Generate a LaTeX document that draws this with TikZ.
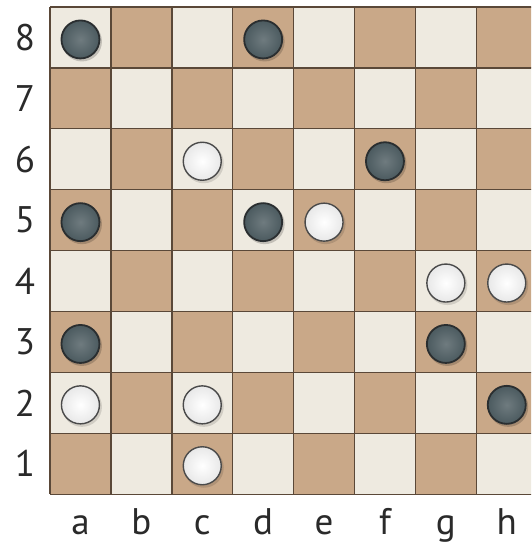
\documentclass[tikz,border=0pt]{standalone}
\usepackage{fontspec}
\setmainfont{PT Sans}
\definecolor{lightsq}{HTML}{EEEAE0}
\definecolor{darksq}{HTML}{C9A888}
\definecolor{gridline}{HTML}{5A4838}
\definecolor{blackpc}{HTML}{4B5A5F}
\definecolor{blackrim}{HTML}{2A2E30}
\definecolor{whitepc}{HTML}{F6F6F6}
\definecolor{whiterim}{HTML}{4A4A4A}
\definecolor{labelcol}{HTML}{2A2A2A}
\tikzset{
  sq/.style={draw=gridline, line width=1.4pt},
  lbl/.style={font=\fontsize{37}{37}\selectfont, text=labelcol, inner sep=0pt},
  shadowpc/.style={circle, minimum size=40pt, inner sep=0pt, fill=black, opacity=0.18},
  blackman/.style={circle, minimum size=38pt, inner sep=0pt, draw=blackrim, line width=1.8pt,
     inner color=blackpc!80!white, outer color=blackpc},
  whiteman/.style={circle, minimum size=38pt, inner sep=0pt, draw=whiterim, line width=1.4pt,
     inner color=white, outer color=whitepc!88!gray},
}
\begin{document}
\begin{tikzpicture}[x=1pt,y=-1pt]
\useasboundingbox (0,0) rectangle (531,545);
\fill[white] (0,0) rectangle (531,545);
\def\sz{60.9}
\begin{scope}
\clip (0,0) rectangle (531,545);
\foreach \i in {0,...,7}{
  \foreach \r in {1,...,8}{
    \pgfmathtruncatemacro{\sqpar}{mod(\i+\r,2)}
    \ifnum\sqpar=1 \def\col{darksq}\else\def\col{lightsq}\fi
    \fill[\col] ({50+\i*\sz},{7+(8-\r)*\sz}) rectangle ++(\sz,\sz);
  }
}
\foreach \k in {0,...,8}{
  \draw[sq] ({50+\k*\sz},7) -- ({50+\k*\sz},{7+8*\sz});
  \draw[sq] (50,{7+\k*\sz}) -- ({50+8*\sz},{7+\k*\sz});
}
% pieces: file index, rank
\foreach \f/\r [count=\n] in {0/8,3/8,5/6,0/5,3/5,0/3,6/3,7/2}{
  \node[shadowpc] at ({50+(\f+0.5)*\sz+1.5},{7+(8.5-\r)*\sz+4}) {};
  \node[blackman] (b\n) at ({50+(\f+0.5)*\sz},{7+(8.5-\r)*\sz+2}) {};
}
\foreach \f/\r [count=\n] in {2/6,4/5,6/4,7/4,0/2,2/2,2/1}{
  \node[shadowpc, opacity=0.12] at ({50+(\f+0.5)*\sz+1.5},{7+(8.5-\r)*\sz+4}) {};
  \node[whiteman] (w\n) at ({50+(\f+0.5)*\sz},{7+(8.5-\r)*\sz+2}) {};
}
\end{scope}
\foreach \r in {1,...,8}{
  \node[lbl] (rank\r) at (25,{7+(8.5-\r)*\sz}) {\r};
}
\foreach \f [count=\k from 0] in {a,b,c,d,e,f,g,h}{
  \node[lbl, anchor=base] (file\f) at ({50+(\k+0.5)*\sz},534) {\f};
}
\end{tikzpicture}
\end{document}
